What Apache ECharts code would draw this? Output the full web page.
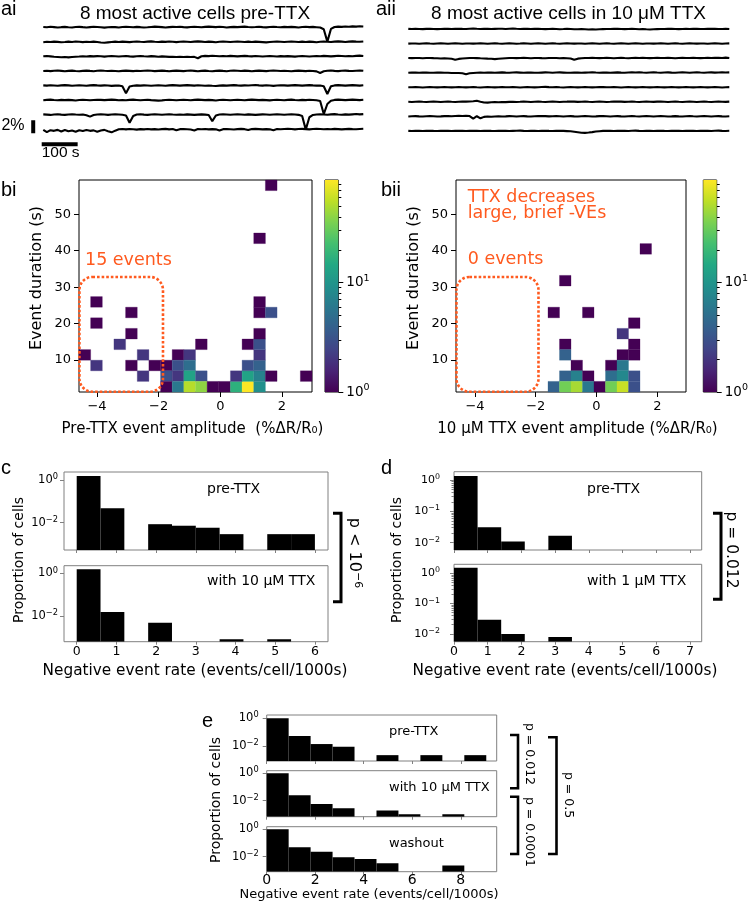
<!DOCTYPE html>
<html>
<head>
<meta charset="utf-8">
<script src="https://cdn.jsdelivr.net/npm/echarts@6.0.0/dist/echarts.min.js"></script>
<style>
html,body{margin:0;padding:0;background:#fff;}
#chart{width:748px;height:902px;}
</style>
</head>
<body>
<div id="chart"></div>
<script>
// ======================= DATA =======================
// Calcium-like traces (%ΔR/R0), one sample every TRACE_DT_S seconds
const TRACE_DT_S = 10;
const pre_trace1 = [0.05,0.00,0.08,0.03,-0.04,0.02,0.06,0.01,-0.03,0.04, 0.07,0.02,-0.02,0.03,0.08,0.04,0.00,-0.05,0.01,0.05, 0.02,-0.03,0.04,0.09,0.05,0.01,0.06,0.02,-0.04,0.00, 0.05,0.10,0.06,0.02,-0.02,0.03,0.07,0.04,0.08,0.03, -0.01,0.04,0.09,0.05,0.00,0.06,0.11,0.07,0.03,0.08, 0.04,-0.02,0.03,0.07,0.02,0.06,0.10,0.05,0.01,0.04, 0.08,0.03,-0.01,0.05,0.09,0.04,0.00,0.06,0.02,0.07, 0.03,-0.02,0.04,0.08,0.03,0.06,0.01,-0.04,-0.30,-2.20, -0.25,0.05,0.10,0.06,0.12,0.08,0.14,0.11,0.15,0.12];
const pre_trace2 = [-0.05,0.02,-0.02,0.04,0.00,-0.06,-0.02,0.03,-0.01,0.05, 0.01,-0.04,0.02,-0.02,0.03,-0.03,-0.10,-0.14,-0.08,-0.02, 0.03,-0.01,0.04,0.00,-0.04,0.02,0.06,0.01,-0.03,0.03, 0.07,0.02,-0.02,0.04,0.00,0.05,0.01,-0.04,0.02,0.06, 0.02,-0.03,0.03,0.07,0.03,-0.01,0.04,0.00,-0.05,0.01, 0.05,0.01,-0.03,0.02,0.06,0.02,-0.02,0.03,-0.01,0.04, 0.00,-0.04,-0.08,-0.03,0.02,0.05,0.01,-0.03,0.02,0.06, 0.02,-0.02,0.03,-0.01,0.04,0.00,-0.05,0.01,0.05,0.02, -0.02,0.03,0.07,0.03,-0.01,0.04,0.08,0.04,0.01,0.05];
const pre_trace3 = [0.02,0.06,0.01,-0.04,-0.08,-0.12,-0.09,-0.14,-0.10,-0.06, -0.02,0.03,-0.01,0.04,0.00,0.05,0.02,-0.03,0.02,0.06, 0.03,-0.02,0.02,0.06,0.01,-0.03,0.03,0.07,0.02,-0.01, 0.04,0.00,-0.04,0.01,-0.03,-0.07,-0.04,-0.08,-0.05,-0.09, -0.06,-0.10,-0.07,-0.28,0.02,0.08,0.05,0.10,0.06,0.02, 0.07,0.03,0.08,0.04,0.00,0.05,0.09,0.04,0.01,0.06, 0.02,-0.02,0.03,0.07,0.03,-0.01,0.04,0.00,0.05,0.01, -0.03,0.02,0.06,0.02,-0.02,0.03,0.07,0.03,0.08,0.04, 0.00,0.05,0.10,0.06,0.02,0.07,0.03,0.08,0.12,0.07];
const pre_trace4 = [0.00,0.04,-0.02,0.03,0.07,0.02,-0.03,0.01,0.05,0.00, -0.04,0.02,0.06,0.01,-0.03,0.03,0.08,0.03,-0.01,0.04, 0.00,-0.05,0.01,0.05,0.02,-0.02,0.03,-0.01,0.04,0.08, 0.03,-0.02,0.02,0.06,0.01,-0.03,0.02,0.06,0.02,-0.02, 0.03,0.07,0.02,-0.03,0.01,0.05,0.00,-0.04,0.02,0.06, 0.01,-0.03,0.03,0.08,0.04,0.00,0.05,0.01,-0.03,0.02, 0.06,0.02,-0.02,0.03,0.07,0.03,-0.01,0.04,0.00,-0.04, 0.01,0.05,0.02,-0.02,0.03,0.00,-0.06,-0.30,-0.05,0.03, 0.07,0.02,-0.02,0.03,0.06,0.02,-0.01,0.04,0.08,0.03];
const pre_trace5 = [0.03,-0.01,0.04,0.00,-0.04,0.02,0.06,0.02,-0.03,0.01, 0.05,0.01,-0.03,0.03,0.07,0.02,-0.02,0.03,0.00,-0.05, -0.02,0.01,-0.10,-1.20,-0.15,-0.03,0.02,-0.02,0.03,0.00, -0.04,0.01,0.05,0.01,-0.03,0.02,0.06,0.02,-0.02,0.03, 0.07,0.03,-0.01,0.04,0.00,-0.04,0.01,-0.03,-0.06,-0.02, 0.02,-0.02,0.03,0.07,0.02,-0.02,0.03,0.00,0.04,0.08, 0.03,-0.01,0.04,0.00,-0.05,0.01,0.05,0.02,-0.02,0.03, 0.06,0.02,-0.02,0.03,0.07,0.02,-0.02,0.01,-0.10,-1.30, -0.12,0.02,0.06,0.02,-0.02,0.03,0.07,0.03,-0.01,0.04];
const pre_trace6 = [-0.02,0.03,0.07,0.02,-0.02,0.03,-0.01,0.04,0.00,-0.05, 0.01,0.05,0.01,-0.03,0.02,0.06,0.03,-0.01,0.04,0.08, 0.03,-0.02,0.02,-0.02,0.03,0.07,0.02,-0.03,0.01,0.05, 0.00,-0.04,-0.08,-0.04,0.01,0.05,0.01,-0.03,0.02,0.06, 0.02,-0.02,0.03,0.07,0.03,-0.01,0.04,0.00,-0.05,0.01, 0.05,0.01,-0.03,0.02,0.06,0.02,-0.02,0.03,0.07,0.03, -0.01,0.04,0.00,-0.04,0.01,0.05,0.02,-0.02,0.03,0.07, 0.02,-0.02,0.03,0.00,0.05,0.01,-0.03,-0.15,-2.15,-0.60, -0.10,0.03,0.07,0.03,-0.01,0.04,0.08,0.04,0.00,0.05];
const pre_trace7 = [0.04,0.00,-0.04,0.02,0.06,0.01,-0.03,0.03,0.07,0.02, -0.02,0.03,-0.08,-0.30,-0.05,0.02,0.06,0.02,-0.03,0.02, 0.06,0.02,-0.02,-0.12,-1.25,-0.20,0.02,0.06,0.01,-0.03, 0.02,0.06,0.02,-0.02,0.03,0.07,0.02,-0.02,0.03,-0.01, 0.04,0.00,-0.04,0.01,0.05,0.01,-0.06,-1.00,-0.12,0.02, 0.06,0.02,-0.02,0.03,0.07,0.03,-0.01,0.04,0.00,-0.04, 0.01,0.05,0.02,-0.02,0.03,0.07,0.03,-0.02,0.02,0.06, 0.02,-0.03,-0.20,-2.30,-0.40,-0.05,0.03,0.07,0.03,-0.01, 0.04,0.08,0.03,-0.01,0.04,0.00,0.05,0.09,0.04,0.08];
const pre_trace8 = [-0.10,-0.45,-0.15,-0.25,-0.10,-0.35,-0.12,-0.30,-0.20,-0.38, -0.15,-0.28,-0.12,-0.25,-0.18,-0.40,-0.20,-0.10,-0.30,-0.48, -0.22,0.00,0.04,-0.02,0.03,-0.01,-0.06,0.02,-0.03,0.03, -0.02,0.01,-0.04,0.02,0.05,-0.02,0.03,-0.15,0.01,0.04, 0.00,-0.04,-0.20,0.02,-0.01,0.03,-0.03,0.02,-0.02,-0.18, 0.01,0.04,0.00,-0.04,0.02,0.06,0.01,-0.12,0.02,0.05, 0.01,-0.03,0.02,-0.02,-0.15,0.03,0.00,0.04,0.08,0.03, -0.02,0.03,0.06,0.02,-0.02,0.03,0.07,0.03,-0.01,0.04, 0.00,0.05,0.01,-0.03,0.02,0.06,0.02,-0.01,0.04,0.07];

const ttx_trace1 = [0.02,-0.01,0.03,0.00,-0.02,0.02,0.04,0.01,-0.02,0.01, 0.04,0.02,-0.01,0.02,0.05,0.02,0.00,0.03,0.06,0.03, 0.01,0.04,0.02,-0.01,0.02,0.05,0.03,0.00,0.03,0.06, 0.03,0.01,0.04,0.02,-0.01,0.02,0.04,0.01,-0.02,0.01, 0.03,0.00,-0.03,-0.01,0.02,0.00,-0.03,-0.05,-0.02,-0.04, -0.07,-0.04,-0.08,-0.05,-0.02,0.01,-0.01,0.02,0.04,0.01, -0.02,0.01,0.03,0.00,-0.03,-0.01,-0.05,-0.08,-0.05,-0.02, 0.01,-0.01,0.02,0.04,0.01,-0.02,0.01,0.03,0.00,0.02, 0.04,0.01,-0.01,0.02,0.04,0.02,-0.01,0.01,0.03,0.00];
const ttx_trace2 = [-0.01,0.02,0.00,-0.03,0.01,0.03,0.00,-0.02,0.01,0.04, 0.01,-0.02,0.01,0.03,0.00,-0.03,0.00,0.02,-0.01,0.02, 0.04,0.01,-0.02,0.01,0.03,0.00,-0.02,0.01,0.04,0.01, -0.02,0.00,0.03,0.00,-0.03,0.01,0.03,0.01,-0.02,0.01, 0.03,0.00,-0.02,0.01,0.04,0.01,-0.01,0.02,0.00,-0.03, 0.00,0.03,0.01,-0.02,0.01,0.03,0.00,-0.02,0.02,0.04, 0.01,-0.02,0.01,0.03,0.00,-0.03,0.00,0.02,-0.01,0.02, 0.04,0.01,-0.02,0.01,0.03,0.00,-0.02,0.01,0.04,0.01, -0.01,0.02,0.00,-0.03,0.01,0.03,0.01,-0.02,0.01,0.03];
const ttx_trace3 = [0.02,0.00,0.03,0.01,-0.02,0.01,0.03,0.00,-0.02,-0.05, -0.03,-0.06,-0.10,-0.25,-0.12,-0.05,-0.02,0.01,0.03,0.00, -0.03,-0.05,-0.08,-0.10,-0.16,-0.09,-0.05,-0.02,0.01,0.03, 0.00,0.02,0.04,0.01,-0.02,0.01,0.03,0.00,-0.02,0.01, 0.03,0.01,-0.02,0.01,-0.02,-0.05,-0.26,-0.08,-0.02,0.01, 0.03,0.05,0.02,0.00,0.03,0.05,0.02,-0.01,0.02,0.04, 0.01,-0.01,0.02,0.04,0.02,0.05,0.03,0.00,0.02,0.04, 0.01,0.03,0.05,0.02,-0.01,0.02,0.04,0.01,0.03,0.05, 0.02,0.00,0.03,0.05,0.02,0.04,0.06,0.03,0.08,0.02];
const ttx_trace4 = [0.00,0.03,0.01,-0.02,0.01,0.03,0.00,-0.02,0.01,0.03, 0.00,-0.02,-0.04,-0.06,-0.05,-0.09,-0.25,-0.10,-0.04,0.00, 0.02,0.00,0.03,0.01,-0.02,0.01,0.04,0.01,-0.01,0.02, 0.04,0.01,-0.02,0.01,0.03,0.00,-0.02,0.01,0.04,0.02, -0.01,0.02,0.04,0.01,-0.02,0.00,0.03,0.01,-0.02,0.01, 0.03,0.06,0.02,0.00,0.03,0.01,-0.02,0.01,0.04,0.01, -0.01,0.02,0.04,0.02,0.05,0.02,0.00,0.03,0.05,0.02, 0.00,0.02,0.04,0.01,-0.01,0.02,0.04,0.02,0.00,0.03, 0.05,0.02,0.00,0.02,0.04,0.01,0.03,0.05,0.02,0.04];
const ttx_trace5 = [0.01,-0.01,0.02,0.00,-0.03,0.00,0.02,0.00,-0.02,0.01, 0.03,0.00,-0.02,0.01,0.03,0.01,-0.02,0.00,0.02,-0.01, -0.03,0.00,0.02,0.00,-0.02,0.01,0.04,0.01,-0.01,0.02, 0.00,-0.03,0.00,0.02,0.00,-0.02,0.01,0.03,0.05,0.02, 0.00,0.02,-0.01,-0.03,0.00,0.02,0.00,-0.02,0.01,0.03, 0.01,-0.02,0.00,0.02,0.04,0.01,-0.01,0.02,0.00,-0.03, 0.00,0.02,0.00,-0.02,0.01,0.03,0.00,-0.02,0.01,0.03, 0.01,-0.02,0.00,0.03,0.01,-0.02,0.01,0.03,0.00,-0.02, 0.01,0.03,0.01,-0.02,0.00,0.02,0.00,-0.03,0.00,0.02];
const ttx_trace6 = [0.00,-0.02,0.01,0.03,0.00,-0.02,0.01,0.03,0.01,-0.02, 0.01,0.03,0.00,-0.02,0.01,0.04,0.02,0.05,0.09,0.15, 0.02,-0.10,-0.13,-0.08,-0.05,-0.07,-0.03,-0.05,-0.01,0.01, -0.02,0.00,0.03,0.01,-0.02,0.01,0.03,0.00,-0.02,0.01, 0.03,0.01,-0.02,0.00,0.02,0.05,0.02,-0.01,0.01,0.03, 0.00,-0.02,0.01,0.03,0.01,-0.02,0.00,0.03,0.05,0.02, -0.01,0.01,0.03,0.00,-0.02,0.01,0.04,0.01,-0.01,0.02, 0.04,0.01,-0.02,0.01,0.03,0.00,-0.02,0.01,0.03,0.01, -0.02,0.01,0.03,0.00,-0.02,0.01,0.04,0.01,-0.01,0.02];
const ttx_trace7 = [-0.02,0.01,0.03,0.00,-0.02,0.01,0.03,0.01,-0.02,0.00, 0.03,0.05,0.02,0.06,0.09,0.06,0.10,0.05,-0.35,0.02, -0.30,-0.08,-0.03,-0.06,-0.02,0.01,-0.02,0.00,0.03,0.01, -0.02,0.01,0.03,0.00,-0.02,0.01,0.04,0.06,0.03,0.00, 0.02,0.04,0.01,-0.02,0.01,0.03,0.00,-0.02,0.01,0.03, 0.01,-0.02,0.00,0.03,0.05,0.02,-0.01,0.01,0.03,0.00, -0.02,0.01,0.04,0.01,-0.01,0.02,0.04,0.01,-0.02,0.01, 0.03,0.01,-0.02,0.00,0.03,0.00,-0.02,0.01,0.04,0.01, -0.01,0.02,0.04,0.02,-0.01,0.01,0.03,0.00,-0.02,0.01];
const ttx_trace8 = [0.01,-0.01,0.02,0.00,-0.02,0.01,0.03,0.00,-0.02,0.01, 0.03,0.01,-0.02,0.00,0.02,0.00,-0.02,0.01,0.03,0.01, -0.01,0.01,0.03,0.00,-0.02,0.01,0.03,0.01,-0.02,0.00, 0.02,0.04,0.01,-0.01,0.02,0.00,-0.02,0.01,0.03,0.00, -0.02,0.01,0.02,0.00,-0.03,-0.06,-0.12,-0.20,-0.28,-0.30, -0.25,-0.18,-0.10,-0.04,0.00,0.02,0.00,-0.02,0.01,0.03, 0.01,-0.01,0.02,0.04,0.01,-0.01,0.02,0.00,-0.02,0.01, 0.03,0.00,-0.02,0.01,0.03,0.01,-0.02,0.00,0.02,0.00, -0.02,0.01,0.03,0.01,-0.01,0.02,0.04,0.01,-0.01,0.02];

// scale bars
const SCALE_BAR_PCT = 2;      // %
const SCALE_BAR_S = 100;      // s

// 2-D histograms (event amplitude x duration): [amplitude bin, duration bin, count]
const HEAT_BINS = 20;
const bi_ampRange = [-4.584, 2.973];
const bii_ampRange = [-4.625, 2.946];
const durRange = [1.23, 59.4];
const bi_cells = [
  [1,8,1],[1,6,1],[4,7,1],[4,5,1],[3,4,2],[0,3,1],[1,2,2],[5,3,2],[4,2,1],[6,2,1],[5,1,2],
  [7,2,1],[8,3,1],[9,3,2],[10,4,1],
  [7,1,3],[8,2,3],[9,2,5],[8,1,2],[9,1,13],[10,1,3],
  [7,0,1],[8,0,6],[9,0,53],[10,0,41],[11,0,1],[12,0,1],[13,0,17],[14,0,87],[15,0,9],
  [13,1,2],[14,1,13],[15,1,7],[16,1,1],[19,1,1],
  [14,2,3],[15,2,4],[15,3,2],[14,4,1],[15,4,3],[15,5,1],[15,7,1],[15,8,1],[16,7,3],
  [15,14,1],[16,19,1]
];
const bii_cells = [
  [16,13,1],[9,10,1],[8,7,1],[11,7,1],[15,6,1],[14,5,2],[15,4,1],[9,4,1],[14,3,1],[15,3,1],[9,3,4],
  [10,2,1],[13,2,1],[14,2,6],
  [9,1,4],[10,1,7],[11,1,1],[13,1,5],[14,1,8],[15,1,3],
  [8,0,4],[9,0,33],[10,0,48],[11,0,6],[12,0,1],[13,0,33],[14,0,60],[15,0,3]
];
const COLOR_MAX_COUNT = 87;
const AMP_TICKS = [-4,-2,0,2];
const DUR_TICKS = [10,20,30,40,50];
const CB_MAJOR_COUNTS = [1,10];
const CB_MINOR_COUNTS = [2,3,4,5,6,7,8,9,20,30,40,50,60,70,80];
// highlighted region (amplitude, duration)
const BOX_AMP_bi = [-4.57,-1.86], BOX_AMP_bii = [-4.61,-1.91], BOX_DUR = [1.3,32.8];

// 1-D histograms: proportion of cells per negative event rate bin
const c_binWidth = 0.6;
const c_preTTX = [1.55,0.047,0,0.0085,0.0072,0.0058,0.0029,0,0.0029,0.0029];
const c_ttx10 = [1.58,0.0155,0,0.0049,0,0,0.00083,0,0.00083,0];
const d_binWidth = 0.7;
const d_preTTX = [1.34,0.031,0.011,0,0.0166];
const d_ttx1 = [1.53,0.029,0.0098,0,0.0078];
const e_binWidth = 0.905;
const e_preTTX = [1.0,0.053,0.0139,0.0089,0,0.0022,0,0.0022,0,0.0022];
const e_ttx10 = [1.0,0.025,0.0058,0.0028,0,0.0019,0.001,0,0.001,0];
const e_washout = [1.0,0.049,0.023,0.0092,0.0069,0.0034,0,0,0.0023,0];
const c_xticks = [0,1,2,3,4,5,6];
const d_xticks = [0,1,2,3,4,5,6,7];
const e_xticks = [0,2,4,6,8];
const c_yticks = [1,0.01];
const d_yticks = [1,0.1,0.01];
const d_yminor = [0.02,0.03,0.04,0.05,0.06,0.07,0.08,0.09,0.2,0.3,0.4,0.5,0.6,0.7,0.8,0.9];
const e_yticks = [1,0.01];

// ======================= BUILD =======================
const DJ = 'DejaVu Sans';
const LS = 'Liberation Sans';
const ORANGE = '#ff5a1f';
const GRAY = '#808080';
const VIRIDIS = ['#440154','#482475','#414487','#355f8d','#2a788e','#21918c','#22a884','#44bf70','#7ad151','#bddf26','#fde725'];
const LOG_MAX = Math.log10(COLOR_MAX_COUNT);

const grid = [], xAxis = [], yAxis = [], series = [], elements = [];
function axisBase(extra) {
  return Object.assign({type:'value', splitLine:{show:false}, splitArea:{show:false},
    axisLine:{show:false, onZero:false}, axisTick:{show:false}, axisLabel:{show:false},
    minorTick:{show:false}, minorSplitLine:{show:false}, axisPointer:{show:false}}, extra);
}
function addGrid(rect, xa, ya) {
  grid.push(Object.assign({outerBoundsMode:'none', containLabel:false, show:false}, rect));
  const g = grid.length - 1;
  xAxis.push(axisBase(Object.assign({gridIndex:g}, xa)));
  yAxis.push(axisBase(Object.assign({gridIndex:g}, ya)));
  return {g:g, x:xAxis.length - 1, y:yAxis.length - 1};
}
function supRich(fs, raise) {
  return {s:{fontSize:fs, fontFamily:DJ, color:'#000', padding:[0,0,raise,0]}};
}
function text(str, x, y, o) {
  o = o || {};
  const st = {text:str, fill:o.color || '#000', fontSize:o.size || 14, fontFamily:o.font || DJ,
      align:o.align || 'left', verticalAlign:'middle', textAlign:o.align || 'left', textVerticalAlign:'middle'};
  if (o.rich) st.rich = o.rich;
  elements.push({type:'text', x:x, y:y, rotation:o.rot || 0, silent:true, z:100, style:st});
}
function bracket(x0, x1, y0, y1, w) {
  elements.push({type:'polyline', silent:true, z:100, shape:{points:[[x0,y0],[x1,y0],[x1,y1],[x0,y1]]},
    style:{stroke:'#000', lineWidth:w || 3, fill:null}});
}
function expStr(e) { return e < 0 ? '\u2212' + Math.abs(e) : String(e); }
function pow10Label(v) { return '10{s|' + expStr(Math.round(Math.log10(v))) + '}'; }
function minus(v) { return v < 0 ? '\u2212' + Math.abs(v) : String(v); }

// ---- a: traces ----
const TRACE_GAP = 2.24;
function addTraces(ax, list) {
  list.forEach(function(tr, i) {
    series.push({type:'line', xAxisIndex:ax.x, yAxisIndex:ax.y, symbol:'none', silent:true, animation:false,
      lineStyle:{color:'#000', width:2.1}, data:tr.map(function(v, k){ return [k * TRACE_DT_S, v - i * TRACE_GAP]; })});
  });
}
const gA = addGrid({left:28.9, top:19.5, width:334.4, height:144.3}, {min:-40, max:890}, {min:-21, max:1.2});
addTraces(gA, [pre_trace1,pre_trace2,pre_trace3,pre_trace4,pre_trace5,pre_trace6,pre_trace7,pre_trace8]);
const gA2 = addGrid({left:408.3, top:21.2, width:321, height:144.3}, {min:0, max:890}, {min:-21, max:1.2});
addTraces(gA2, [ttx_trace1,ttx_trace2,ttx_trace3,ttx_trace4,ttx_trace5,ttx_trace6,ttx_trace7,ttx_trace8]);
// scale bars (anchored left of / below the traces)
series.push({type:'line', xAxisIndex:gA.x, yAxisIndex:gA.y, symbol:'none', silent:true,
  lineStyle:{color:'#000', width:4, cap:'butt'}, data:[[-28,-14.3],[-28,-14.3 - SCALE_BAR_PCT]]});
series.push({type:'line', xAxisIndex:gA.x, yAxisIndex:gA.y, symbol:'none', silent:true,
  lineStyle:{color:'#000', width:4, cap:'butt'}, data:[[-4.4,-18.0],[-4.4 + SCALE_BAR_S,-18.0]]});

// ---- b: 2D histograms ----
const heatIdx = [];
function addHeat(rect, ampR, cells, boxAmp, cbRect) {
  const g = addGrid(Object.assign({show:true, borderColor:'#000', borderWidth:1, backgroundColor:'rgba(0,0,0,0)'}, rect),
    {min:ampR[0], max:ampR[1],
     axisTick:{show:true, length:5, customValues:AMP_TICKS, lineStyle:{color:'#000', width:1}},
     axisLabel:{show:true, customValues:AMP_TICKS, formatter:minus, fontSize:13, fontFamily:DJ, color:'#000', margin:8}},
    {min:durRange[0], max:durRange[1],
     axisTick:{show:true, length:5, customValues:DUR_TICKS, lineStyle:{color:'#000', width:1}},
     axisLabel:{show:true, customValues:DUR_TICKS, fontSize:13, fontFamily:DJ, color:'#000', margin:8}});
  const aw = (ampR[1] - ampR[0]) / HEAT_BINS, dw = (durRange[1] - durRange[0]) / HEAT_BINS;
  const data = cells.map(function(c) {
    return [ampR[0] + c[0]*aw, durRange[0] + c[1]*dw, ampR[0] + (c[0]+1)*aw, durRange[0] + (c[1]+1)*dw, c[2], Math.log10(c[2])];
  });
  series.push({type:'custom', xAxisIndex:g.x, yAxisIndex:g.y, silent:true, data:data, encode:{x:[0,2], y:[1,3]},
    renderItem:function(p, api) {
      const a = api.coord([api.value(0), api.value(3)]), b = api.coord([api.value(2), api.value(1)]);
      const col = api.visual('color');
      return {type:'rect', shape:{x:a[0], y:a[1], width:b[0]-a[0], height:b[1]-a[1]}, style:{fill:col, stroke:col, lineWidth:0.3}};
    }});
  heatIdx.push(series.length - 1);
  series.push({type:'custom', xAxisIndex:g.x, yAxisIndex:g.y, silent:true, clip:false, z:5,
    data:[[boxAmp[0], BOX_DUR[0], boxAmp[1], BOX_DUR[1]]], encode:{x:[0,2], y:[1,3]},
    renderItem:function(p, api) {
      const a = api.coord([api.value(0), api.value(3)]), b = api.coord([api.value(2), api.value(1)]);
      return {type:'rect', shape:{x:a[0], y:a[1], width:b[0]-a[0], height:b[1]-a[1], r:13},
        style:{fill:'none', stroke:ORANGE, lineWidth:2.6, lineDash:[2.6,2]}};
    }});
  // colour bar
  const cb = addGrid(Object.assign({show:true, borderColor:'#000', borderWidth:1}, cbRect), {min:0, max:1},
    {min:0, max:LOG_MAX, position:'right',
     axisTick:{show:true, length:5, customValues:CB_MAJOR_COUNTS.map(Math.log10), lineStyle:{color:'#000'}},
     axisLabel:{show:true, customValues:CB_MAJOR_COUNTS.map(Math.log10), formatter:function(v){ return '10{s|' + expStr(Math.round(v)) + '}'; },
       fontSize:13.5, fontFamily:DJ, color:'#000', margin:8, rich:supRich(9.5, 8)}});
  yAxis.push(axisBase({gridIndex:cb.g, min:0, max:LOG_MAX, position:'right',
    axisTick:{show:true, length:3, customValues:CB_MINOR_COUNTS.map(Math.log10), lineStyle:{color:'#000'}}}));
  series.push({type:'custom', xAxisIndex:cb.x, yAxisIndex:cb.y, silent:true, data:[[0,0,1,LOG_MAX]], encode:{x:[0,2], y:[1,3]},
    renderItem:function(p, api) {
      const a = api.coord([api.value(0), api.value(3)]), b = api.coord([api.value(2), api.value(1)]);
      return {type:'rect', shape:{x:a[0], y:a[1], width:b[0]-a[0], height:b[1]-a[1]},
        style:{fill:new echarts.graphic.LinearGradient(0,1,0,0, VIRIDIS.map(function(c,i){ return {offset:i/(VIRIDIS.length-1), color:c}; }))}};
    }});
}
addHeat({left:79, top:180, width:233, height:212}, bi_ampRange, bi_cells, BOX_AMP_bi, {left:325, top:180, width:13.3, height:212});
addHeat({left:456, top:180, width:230, height:212}, bii_ampRange, bii_cells, BOX_AMP_bii, {left:703.3, top:180, width:13.4, height:212});

// ---- c/d/e: 1D histograms ----
function addHist(rect, xR, yExp, xticks, yticks, showX, binW, vals, o) {
  const ymin = Math.pow(10, yExp[0]);
  const g = addGrid(Object.assign({show:true, borderColor:GRAY, borderWidth:1}, rect),
    {min:xR[0], max:xR[1],
     axisTick:{show:true, length:3, customValues:xticks, lineStyle:{color:GRAY}},
     axisLabel:showX ? {show:true, customValues:xticks, fontSize:o.xfs, fontFamily:DJ, color:'#000', margin:o.xm} : {show:false}},
    {type:'log', logBase:10, min:ymin, max:Math.pow(10, yExp[1]),
     axisTick:{show:true, length:4, customValues:yticks, lineStyle:{color:GRAY}},
     axisLabel:{show:true, customValues:yticks, formatter:pow10Label, fontSize:o.yfs, fontFamily:DJ, color:'#000', margin:o.ym,
       rich:supRich(o.yfs * 0.72, 6)}});
  if (o.minor) {
    yAxis.push(axisBase({gridIndex:g.g, type:'log', logBase:10, min:ymin, max:Math.pow(10, yExp[1]), position:'left',
      axisTick:{show:true, length:2.5, customValues:o.minor, lineStyle:{color:GRAY}}}));
  }
  const data = [];
  vals.forEach(function(v, k) { if (v > 0) data.push([k*binW, (k+1)*binW, v]); });
  series.push({type:'custom', xAxisIndex:g.x, yAxisIndex:g.y, silent:true, clip:true, data:data, encode:{x:[0,1], y:2},
    renderItem:function(p, api) {
      const a = api.coord([api.value(0), api.value(2)]), b = api.coord([api.value(1), ymin]);
      return {type:'rect', shape:{x:a[0], y:a[1], width:b[0]-a[0], height:b[1]-a[1]}, style:{fill:'#000'}};
    }});
}
const cOpt = {xfs:12.5, xm:4, yfs:11.5, ym:6};
addHist({left:64, top:472, width:264, height:78}, [-0.32,6.33], [-3.28,0.375], c_xticks, c_yticks, false, c_binWidth, c_preTTX, cOpt);
addHist({left:64, top:565.7, width:264, height:76}, [-0.32,6.33], [-3.2,0.36], c_xticks, c_yticks, true, c_binWidth, c_ttx10, cOpt);
const dOpt = {xfs:12.5, xm:4, yfs:11, ym:14, minor:d_yminor};
addHist({left:454, top:471.7, width:247.7, height:78.3}, [0,7.35], [-2.233,0.265], d_xticks, d_yticks, false, d_binWidth, d_preTTX, dOpt);
addHist({left:454, top:564.3, width:247.7, height:77.4}, [0,7.35], [-2.26,0.3], d_xticks, d_yticks, true, d_binWidth, d_ttx1, dOpt);
const eOpt = {xfs:14, xm:2, yfs:11.5, ym:8};
addHist({left:266.7, top:715, width:230, height:46}, [0,9.48], [-3.08,0.24], e_xticks, e_yticks, false, e_binWidth, e_preTTX, eOpt);
addHist({left:266.7, top:770.7, width:230, height:46}, [0,9.48], [-3.17,0.19], e_xticks, e_yticks, false, e_binWidth, e_ttx10, eOpt);
addHist({left:266.7, top:826.7, width:230, height:45}, [0,9.48], [-3.09,0.19], e_xticks, e_yticks, true, e_binWidth, e_washout, eOpt);

// ---- texts ----
text('ai', 1, 9, {size:20, font:LS});
text('8 most active cells pre-TTX', 195, 13.3, {size:19, font:LS, align:'center'});
text('aii', 376, 9, {size:20, font:LS});
text('8 most active cells in 10 μM TTX', 568.5, 13.3, {size:19, font:LS, align:'center'});
text('2%', 24.5, 126, {size:16, font:LS, align:'right'});
text('100 s', 41.7, 153, {size:15.5, font:LS});
text('bi', 1, 190, {size:20, font:LS});
text('bii', 381, 190, {size:20, font:LS});
text('Event duration (s)', 37, 278, {size:16, rot:Math.PI/2, align:'center'});
text('Event duration (s)', 414, 278, {size:16, rot:Math.PI/2, align:'center'});
text('Pre-TTX event amplitude  (%ΔR/R₀)', 192.5, 429, {size:15, align:'center'});
text('10 μM TTX event amplitude (%ΔR/R₀)', 577.5, 429, {size:15, align:'center'});
text('15 events', 85, 260, {size:17.5, color:ORANGE});
text('TTX decreases', 467.7, 197, {size:17.5, color:ORANGE});
text('large, brief -VEs', 467.7, 213.5, {size:17.5, color:ORANGE});
text('0 events', 467.7, 259.2, {size:17.5, color:ORANGE});
text('c', 1, 468, {size:20, font:LS});
text('d', 381, 468, {size:20, font:LS});
text('e', 202, 721, {size:20, font:LS});
text('Proportion of cells', 19, 560, {size:14, rot:Math.PI/2, align:'center'});
text('Proportion of cells', 397, 560, {size:14, rot:Math.PI/2, align:'center'});
text('Negative event rate (events/cell/1000s)', 195, 671, {size:15.3, align:'center'});
text('Negative event rate (events/cell/1000s)', 565, 671, {size:15.3, align:'center'});
text('pre-TTX', 207, 489, {size:14});
text('with 10 μM TTX', 207, 581, {size:14});
text('pre-TTX', 587, 489, {size:14});
text('with 1 μM TTX', 587, 581, {size:14});
text('pre-TTX', 389, 732, {size:13});
text('with 10 μM TTX', 389, 788, {size:13});
text('washout', 389, 844, {size:13});
text('Proportion of cells', 216, 800, {size:14, rot:Math.PI/2, align:'center'});
text('Negative event rate (events/cell/1000s)', 369, 895, {size:13, align:'center'});
// significance brackets
bracket(333, 341, 513.3, 601.7, 3);
text('p < 10{s|\u22126}', 354, 553, {size:16, rot:-Math.PI/2, align:'center', rich:supRich(11, 8)});
bracket(713, 721, 513.3, 599.3, 3);
text('p = 0.012', 731.5, 550, {size:15.5, rot:-Math.PI/2, align:'center'});
bracket(510, 518, 735, 788.3, 2.6);
bracket(510, 518, 796.7, 854, 2.6);
bracket(548, 556.5, 737.3, 854, 2.6);
text('p = 0.012', 529, 754, {size:12.5, rot:-Math.PI/2, align:'center'});
text('p = 0.0001', 529, 832, {size:12.5, rot:-Math.PI/2, align:'center'});
text('p = 0.5', 568, 795, {size:12.5, rot:-Math.PI/2, align:'center'});

const option = {
  animation:false,
  backgroundColor:'#fff',
  textStyle:{fontFamily:DJ},
  grid:grid, xAxis:xAxis, yAxis:yAxis, series:series,
  visualMap:[{type:'continuous', show:false, seriesIndex:heatIdx, dimension:5, min:0, max:LOG_MAX, inRange:{color:VIRIDIS}}],
  graphic:{elements:elements}
};
const chart = echarts.init(document.getElementById('chart'), null, {renderer:'canvas', width:748, height:902});
chart.setOption(option);
</script>
</body>
</html>
